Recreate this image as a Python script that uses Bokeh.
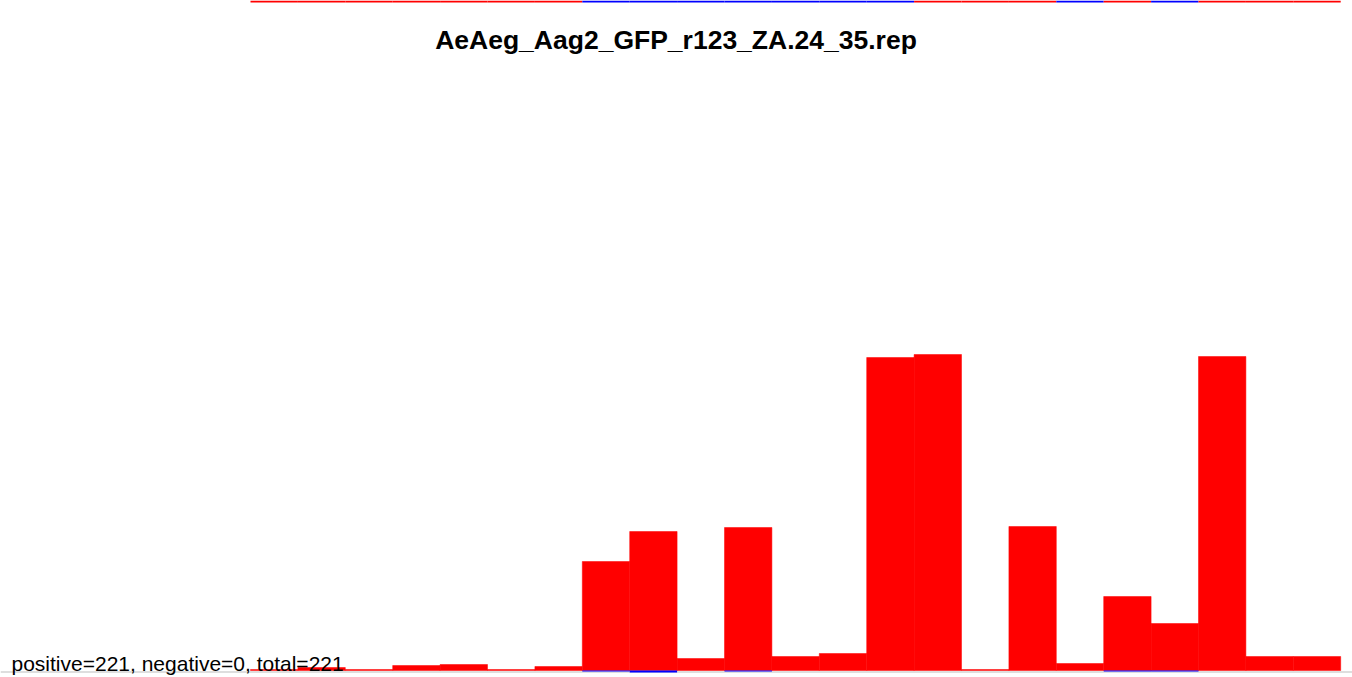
from bokeh.plotting import figure
from bokeh.models import Range1d, Label, Span, ColumnDataSource
from bokeh.embed import file_html
from bokeh.resources import INLINE

# ---- data ----
title_text = "AeAeg_Aag2_GFP_r123_ZA.24_35.rep"
summary_text = "positive=221, negative=0, total=221"
positions = list(range(1, 24))
pos_values = [1, 3, 1, 5, 6, 1, 4, 109, 139, 12, 143, 14, 17, 313, 316, 1,
              144, 7, 74, 47, 314, 14, 14]
neg_values = [0, 0, 0, 0, 0, 0, 0, -1, -2, 0, -1, 0, 0, 0, 0, 0,
              0, 0, -1, -1, 0, 0, 0]
# bottom edge of the previous (cut-off) panel: sign colour per position
prev_strip_colors = (["#ff0000"] * 7 + ["#0000ff"] * 7 + ["#ff0000"] * 3 +
                     ["#0000ff"] + ["#ff0000"] + ["#0000ff"] + ["#ff0000"] * 3)

# ---- layout ----
W, H = 1352, 677
bar_px = 47.4
x0 = 0.5 - 250 / bar_px
s = 1.0                        # px per value unit
base_canvas = 670              # baseline, px from top of canvas
y_start = -(H - base_canvas) / s
y_end = base_canvas / s

p = figure(width=W, height=H, x_range=Range1d(x0, x0 + W / bar_px),
           y_range=Range1d(y_start, y_end), output_backend="svg",
           toolbar_location=None, min_border=0, x_axis_type=None,
           y_axis_type=None, outline_line_color=None,
           background_fill_color="white", border_fill_color="white")
p.grid.visible = False

src = ColumnDataSource(dict(x=positions, pos=pos_values, neg=neg_values,
                            prev=prev_strip_colors))

p.add_layout(Span(location=-1.5 / s, dimension="width",
                  line_color="#bdbdbd", line_width=1, level="underlay"))

p.vbar(x="x", top="pos", bottom=0, width=1, source=src,
       fill_color="#ff0000", line_color="#ff0000", line_width=0.5)
p.vbar(x="x", top=0, bottom="neg", width=1, source=src,
       fill_color="#0000ff", line_color=None)
p.vbar(x="x", top=y_end, bottom=y_end - 2 / s, width=1, source=src,
       fill_color="prev", line_color=None)

p.add_layout(Label(x=x0 + 675.5 / bar_px, y=(base_canvas - 39) / s,
                   text=title_text, text_align="center",
                   text_baseline="alphabetic", text_font="Liberation Sans",
                   text_font_style="bold", text_font_size="26.5px",
                   text_color="black"))
p.add_layout(Label(x=x0 + 11 / bar_px, y=7, text=summary_text,
                   text_align="left", text_baseline="alphabetic",
                   text_font="Liberation Sans", text_font_size="21px",
                   text_color="black"))

open("out.html", "w").write(file_html(p, INLINE))
